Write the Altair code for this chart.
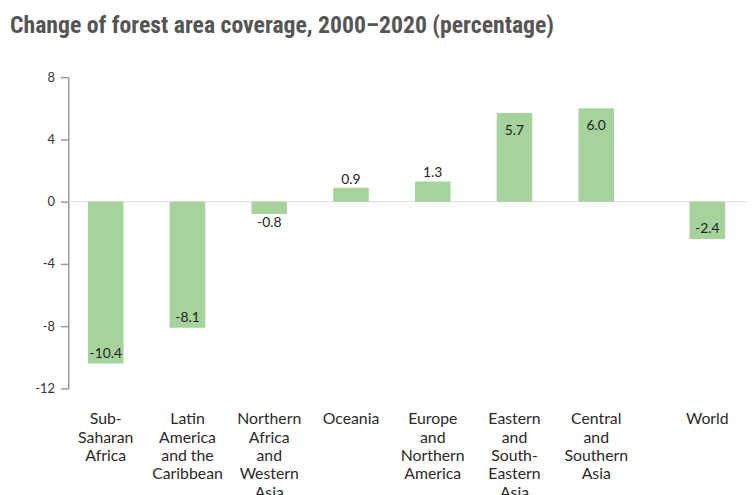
import altair as alt
import pandas as pd

TITLE = "Change of forest area coverage, 2000\u20132020 (percentage)"

region_labels = [
    "Sub-|Saharan|Africa",
    "Latin|America|and the|Caribbean",
    "Northern|Africa|and|Western|Asia",
    "Oceania",
    "Europe|and|Northern|America",
    "Eastern|and|South-|Eastern|Asia",
    "Central|and|Southern|Asia",
]
region_values = [-10.4, -8.1, -0.8, 0.9, 1.3, 5.7, 6.0]
world_labels = ["World"]
world_values = [-2.4]
y_ticks = [-12, -8, -4, 0, 4, 8]

FONT = "Lato"
BAR = "#a6d39c"
AXIS_GREY = "#9a9a9a"
MINUS = "\u2212"

regions_df = pd.DataFrame({"label": region_labels, "value": region_values})
world_df = pd.DataFrame({"label": world_labels, "value": world_values})

y_enc = alt.Y(
    "value:Q",
    scale=alt.Scale(domain=[-12, 8], nice=False),
    axis=alt.Axis(
        values=y_ticks, title=None, grid=False, tickSize=8,
        tickColor=AXIS_GREY, domainColor=AXIS_GREY, domainWidth=1.5, tickWidth=1.5,
        labelPadding=6, labelFont=FONT, labelFontSize=13, labelColor="#333333",
        labelExpr=f"replace(datum.label, '{MINUS}', '-')",
    ),
)


def group(df, scale):
    x = alt.X(
        "label:N", sort=None, scale=scale,
        axis=alt.Axis(
            orient="bottom", title=None, labelAngle=0,
            labelExpr="split(datum.label, '|')",
            labelFont=FONT, labelFontSize=16, labelColor="#2a2a2a",
            labelLineHeight=18.5, labelPadding=23, ticks=False, domain=False,
            labelLimit=0, labelOverlap=False, labelBaseline="top",
        ),
    )
    base = alt.Chart(df).encode(x=x, y=y_enc)
    bars = base.mark_bar(color=BAR)

    def txt(cond, dy):
        return (
            base.transform_filter(cond)
            .transform_calculate(txt=f"replace(format(datum.value, '.1f'), '{MINUS}', '-')")
            .mark_text(font=FONT, fontSize=14, color="#222222", baseline="middle", dy=dy)
            .encode(text=alt.Text("txt:N"))
        )

    return alt.layer(
        bars,
        txt("datum.value >= 2", 18),
        txt("datum.value <= -2", -10),
        txt("datum.value >= 0 && datum.value < 2", -8),
        txt("datum.value < 0 && datum.value > -2", 9),
    )


region_scale = alt.Scale(paddingInner=0.565, paddingOuter=0.934, align=0.129)
world_scale = alt.Scale(paddingInner=0.889, paddingOuter=1, align=0.966)

zero = alt.Chart(pd.DataFrame({"z": [0]})).mark_rule(color="#dddddd", strokeWidth=1).encode(
    y=alt.Y("z:Q")
)

chart = (
    alt.layer(zero, group(regions_df, region_scale), group(world_df, world_scale))
    .resolve_scale(x="independent")
    .properties(
        width=687,
        height=315,
        padding={"left": 2, "top": 3, "right": 0, "bottom": 0},
        title=alt.TitleParams(
            TITLE, anchor="start", frame="group", dx=-59, offset=15,
            font="Roboto Condensed, DejaVu Sans Condensed", fontSize=24, fontWeight="bold",
            color="#555555", baseline="alphabetic",
        ),
    )
    .configure_view(stroke=None)
)

chart.save("out.html", embed_options={"renderer": "svg", "actions": False})
